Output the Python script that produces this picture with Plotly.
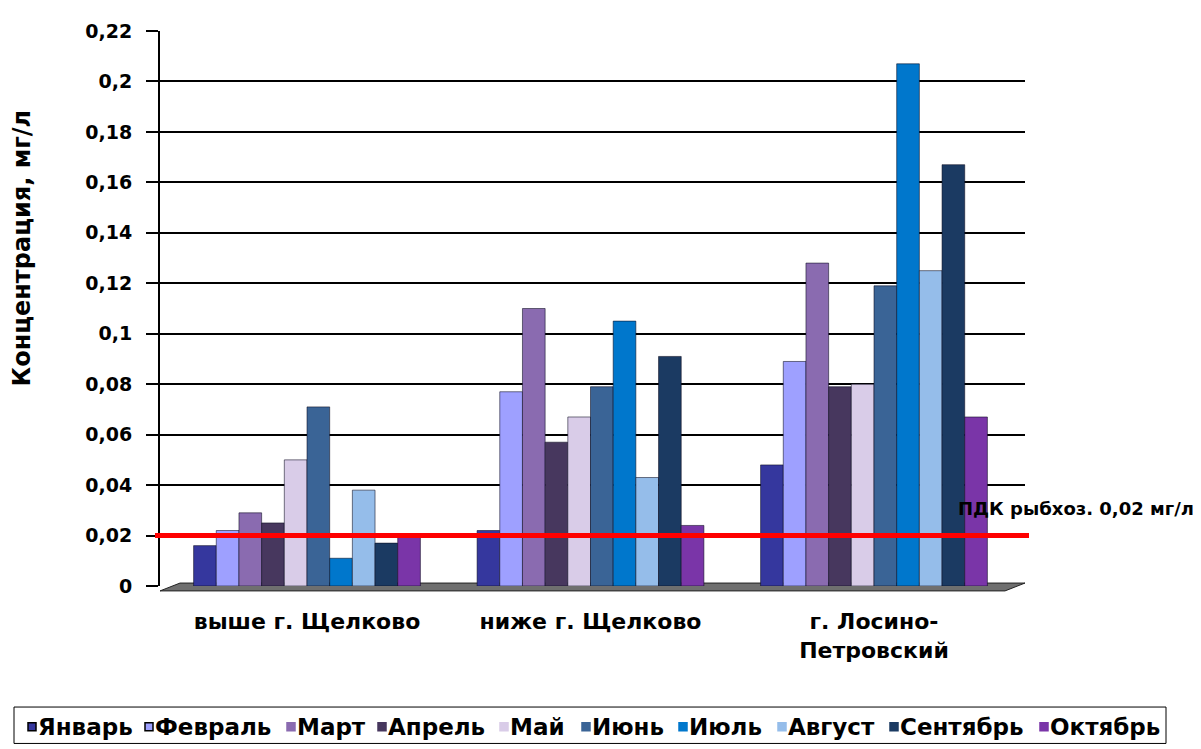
import plotly.graph_objects as go

categories = ["выше г. Щелково", "ниже г. Щелково", "г. Лосино-<br>Петровский"]
months = ["Январь", "Февраль", "Март", "Апрель", "Май", "Июнь", "Июль", "Август", "Сентябрь", "Октябрь"]
values = {
    "Январь":   [0.016, 0.022, 0.048],
    "Февраль":  [0.022, 0.077, 0.089],
    "Март":     [0.029, 0.110, 0.128],
    "Апрель":   [0.025, 0.057, 0.079],
    "Май":      [0.050, 0.067, 0.080],
    "Июнь":     [0.071, 0.079, 0.119],
    "Июль":     [0.011, 0.105, 0.207],
    "Август":   [0.038, 0.043, 0.125],
    "Сентябрь": [0.017, 0.091, 0.167],
    "Октябрь":  [0.020, 0.024, 0.067],
}
colors = ["#35379E", "#9EA0FF", "#8A6BB0", "#47375E", "#D9CCE8",
          "#3A6496", "#0077CC", "#95BDEA", "#1B3A62", "#7A35A8"]
pdk_value = 0.02
pdk_label = "ПДК рыбхоз. 0,02 мг/л"
y_title = "Концентрация, мг/л"
y_ticks = [0, 0.02, 0.04, 0.06, 0.08, 0.1, 0.12, 0.14, 0.16, 0.18, 0.2, 0.22]

FONT = "DejaVu Sans"
VW, VH = 1201, 749          # viewport
OFF = 8                     # page body margin
W, H = VW - OFF, VH - OFF
L, R, T, B = 160, 1025, 22, 586   # plot area in viewport pixels


def px(xp):
    return (xp - L) / (R - L)


def py(yp):
    return (B - yp) / (B - T)


fig = go.Figure()
for m, c in zip(months, colors):
    fig.add_trace(go.Bar(
        x=list(range(len(categories))), y=values[m], name=m,
        marker=dict(color=c, line=dict(color="rgba(10,10,30,0.55)", width=1)),
    ))

# floor (3D base)
fig.add_shape(type="path", xref="paper", yref="paper",
              path=f"M {px(160)} {py(591)} L {px(1005)} {py(591)} L {px(1025)} {py(583)} L {px(180)} {py(583)} Z",
              fillcolor="#6f6f6f", line=dict(color="#222222", width=1), layer="below")
# PDK line
fig.add_shape(type="line", xref="paper", yref="y", x0=px(155), x1=px(1029), y0=pdk_value, y1=pdk_value,
              line=dict(color="#FF0000", width=5))
fig.add_annotation(text="<b>" + pdk_label + "</b>", xref="paper", yref="paper",
                   x=px(1196), y=py(507), xanchor="right", yanchor="middle", showarrow=False,
                   font=dict(family=FONT, size=18, color="black"))
fig.add_annotation(text="<b>" + y_title + "</b>", xref="paper", yref="paper",
                   x=px(22), y=py(243), textangle=-90, showarrow=False,
                   xanchor="center", yanchor="middle",
                   font=dict(family=FONT, size=24, color="black"))

# manual legend (single row, boxed)
legend_square_x = [28, 145, 287, 378, 500, 582, 679, 778, 890, 1040]
fig.add_shape(type="rect", xref="paper", yref="paper",
              x0=px(14), x1=px(1166), y0=py(709), y1=py(746),
              line=dict(color="black", width=1), fillcolor="white")
for i, (m, c) in enumerate(zip(months, colors)):
    sx = legend_square_x[i]
    fig.add_shape(type="rect", xref="paper", yref="paper",
                  x0=px(sx), x1=px(sx + 8), y0=py(725), y1=py(733),
                  line=dict(color="black" if i < 2 else c, width=1.5), fillcolor=c)
    fig.add_annotation(text="<b>" + m + "</b>", xref="paper", yref="paper",
                       x=px(sx + 8), y=py(729), xanchor="left", yanchor="middle",
                       showarrow=False, font=dict(family=FONT, size=23, color="black"))

fig.update_layout(
    width=W, height=H,
    margin=dict(l=L - OFF, r=VW - R, t=T - OFF, b=VH - B),
    paper_bgcolor="white", plot_bgcolor="white",
    separators=", ",
    barmode="group", bargap=0.2, bargroupgap=0,
    font=dict(family=FONT, size=21, color="black"),
    showlegend=False,
    xaxis=dict(showline=False, tickmode="array", tickvals=list(range(len(categories))),
               ticktext=["<b>" + c.replace("<br>", "</b><br><b>") + "</b>" for c in categories],
               range=[-(307 - L) / 283.5, 2 + (R - 874) / 283.5],
               ticks="", tickfont=dict(family=FONT, size=22), ticklabelstandoff=20,
               showgrid=False, zeroline=False),
    yaxis=dict(range=[0, 0.22], tickvals=y_ticks, showgrid=True, gridcolor="black", gridwidth=2,
               showline=True, linecolor="black", linewidth=2, ticks="outside", ticklen=12,
               tickcolor="black", tickwidth=1.5, tickfont=dict(family=FONT, size=19, weight="bold"),
               ticklabelstandoff=10, zeroline=False),
)

fig.write_html("out.html")
